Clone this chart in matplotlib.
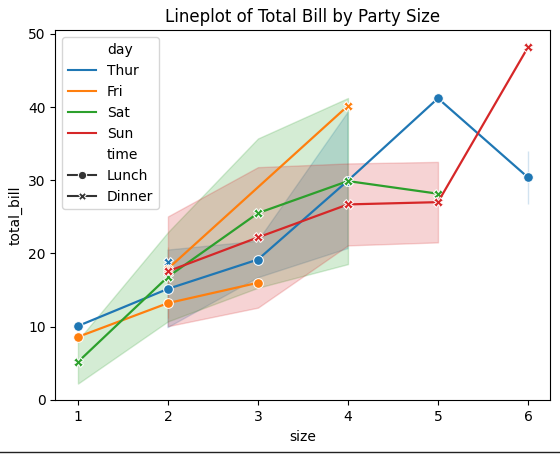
import numpy as np
import matplotlib
matplotlib.use("Agg")
import matplotlib.pyplot as plt
from matplotlib.lines import Line2D

nan = np.nan

# mean total_bill (and sd) by party size, one set per day/time
thur_lunch_size = [1, 2, 3, 4, 5, 6]
thur_lunch_mean = [10.07, 15.15, 19.16, 29.95, 41.19, 30.38]
thur_lunch_sd = [nan, 5.3, 2.5, 9.3, nan, 3.65]

thur_dinner_size = [2]
thur_dinner_mean = [18.78]
thur_dinner_sd = [nan]

fri_lunch_size = [1, 2, 3]
fri_lunch_mean = [8.58, 13.2, 15.98]
fri_lunch_sd = [nan, 2.0, nan]

fri_dinner_size = [2, 4]
fri_dinner_mean = [17.9, 40.17]
fri_dinner_sd = [3.0, nan]

sat_dinner_size = [1, 2, 3, 4, 5]
sat_dinner_mean = [5.16, 16.8, 25.5, 29.88, 28.15]
sat_dinner_sd = [2.96, 6.1, 10.2, 11.35, nan]

sun_dinner_size = [2, 3, 4, 5, 6]
sun_dinner_mean = [17.55, 22.18, 26.69, 27.0, 48.17]
sun_dinner_sd = [7.5, 9.6, 5.6, 5.5, nan]

days = ["Thur", "Fri", "Sat", "Sun"]
times = ["Lunch", "Dinner"]
colors = {"Thur": "#1f77b4", "Fri": "#ff7f0e", "Sat": "#2ca02c", "Sun": "#d62728"}
markers = {"Lunch": "o", "Dinner": "X"}

groups = [
    ("Thur", "Lunch", thur_lunch_size, thur_lunch_mean, thur_lunch_sd),
    ("Thur", "Dinner", thur_dinner_size, thur_dinner_mean, thur_dinner_sd),
    ("Fri", "Lunch", fri_lunch_size, fri_lunch_mean, fri_lunch_sd),
    ("Fri", "Dinner", fri_dinner_size, fri_dinner_mean, fri_dinner_sd),
    ("Sat", "Dinner", sat_dinner_size, sat_dinner_mean, sat_dinner_sd),
    ("Sun", "Dinner", sun_dinner_size, sun_dinner_mean, sun_dinner_sd),
]

fig = plt.figure(figsize=(5.6, 4.54), dpi=100)
ax = fig.add_subplot(111)
fig.subplots_adjust(left=0.099, right=0.983, bottom=0.118, top=0.933)

for day, time, x, m, s in groups:
    x = np.array(x, dtype=float)
    m = np.array(m)
    s = np.array(s)
    ax.plot(x, m, color=colors[day], lw=1.6, marker=markers[time],
            markersize=7, mec="w", mew=0.75)
    ax.fill_between(x, m - s, m + s, color=colors[day], alpha=0.2)

# legend like seaborn's, with the titles as blank entries
handles = [Line2D([], [], color="none")]
labels = ["day"]
for d in days:
    handles.append(Line2D([], [], color=colors[d], lw=1.5))
    labels.append(d)
handles.append(Line2D([], [], color="none"))
labels.append("time")
for t in times:
    handles.append(Line2D([], [], color=".2", lw=1.5, marker=markers[t],
                          markersize=6, mec="w", mew=0.75))
    labels.append(t)
ax.legend(handles, labels, loc="upper left")

ax.set_xlabel("size")
ax.set_ylabel("total_bill")
ax.set_title("Lineplot of Total Bill by Party Size")

# thin rule along the bottom edge of the picture
fig.add_artist(Line2D([0, 1], [0.004, 0.004], transform=fig.transFigure,
                      color="#222222", lw=1))

fig.savefig("out.png", dpi=100)
